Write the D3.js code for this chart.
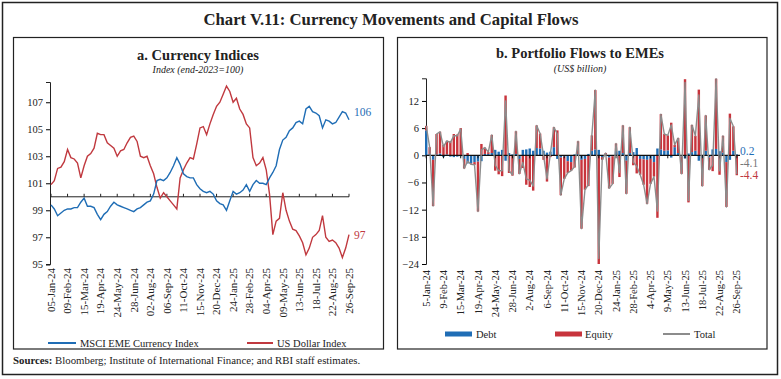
<!DOCTYPE html>
<html><head><meta charset="utf-8">
<script src="https://cdn.jsdelivr.net/npm/d3@7"></script>
<style>body{margin:0;background:#fff} svg{display:block} text{font-family:"Liberation Serif","DejaVu Serif",serif;fill:#222}</style>
</head><body><svg id="c" width="781" height="379"></svg>
<script>
// ---------- DATA ----------
const startDate = "2024-01-05"; // weekly observations (Fridays)
const usdIndex = [100.9,101.2,102.1,102.2,102.6,103.5,102.9,102.8,102.5,101.4,
102.3,103.0,103.2,103.6,104.7,104.6,104.6,104.0,103.8,103.6,
103.0,103.4,103.5,104.0,104.4,104.5,104.1,103.0,102.9,103.0,
102.3,101.7,100.7,99.9,100.3,100.0,99.7,99.4,99.1,101.4,
102.0,102.5,102.9,102.8,103.9,105.1,105.2,104.6,105.4,106.1,
106.7,107.0,107.6,108.2,107.8,107.0,107.3,106.5,106.1,105.4,
105.1,102.9,102.3,102.5,102.9,102.0,100.2,97.2,98.2,98.4,
100.3,99.0,98.2,97.6,97.5,97.1,96.6,95.7,96.2,97.0,
97.2,97.5,98.6,97.0,96.7,96.8,96.6,96.2,95.5,96.2,97.2];
const msciIndex = [99.4,99.1,98.6,98.8,99.0,99.1,99.1,99.2,99.2,99.6,
99.9,99.3,99.3,99.2,98.7,98.3,98.7,98.9,99.3,99.6,
99.4,99.3,99.2,99.1,99.0,98.9,99.1,99.2,99.4,99.6,
99.7,100.2,101.2,101.3,101.2,101.4,101.8,102.3,102.9,102.4,
101.7,101.5,101.4,101.4,100.9,100.6,100.4,100.3,100.4,100.2,
99.7,99.5,99.4,99.0,99.7,100.4,100.2,100.3,100.5,100.9,
100.4,100.9,101.2,101.0,101.0,100.9,101.4,101.8,102.3,103.5,
104.2,104.4,104.9,105.1,105.5,105.6,105.4,106.5,106.7,106.3,
106.2,106.0,105.1,105.7,105.6,105.4,105.5,105.9,106.3,106.2,105.7];
const debtFlows = [5.5,0.3,-1.0,0.2,0.4,-0.4,0.2,-0.3,-0.4,-0.3,
-0.2,-0.8,-1.8,-1.8,-1.5,-1.4,-1.3,0.3,0.3,0.5,
1.2,0.8,1.2,-1.2,0.5,0.2,0.3,-0.8,1.2,1.3,
1.5,1.0,1.6,1.5,1.0,0.6,0.8,1.8,-0.8,-0.5,
-0.3,-1.3,-1.5,0.2,0.3,-1.0,-0.8,0.3,1.0,1.3,
1.2,-0.4,0.2,-0.5,-0.2,1.0,1.0,0.5,-1.2,0.5,
0.7,1.6,-0.8,-0.9,-1.0,-0.8,-1.5,1.5,1.3,1.0,
1.1,-0.5,1.8,0.5,-0.3,-0.7,0.4,0.7,1.0,-1.2,
-0.6,1.0,-0.5,1.3,1.4,0.9,0.6,-1.5,-1.0,1.0,0.2];
const equityFlows = [1.0,1.5,-10.2,4.5,4.8,2.3,3.0,3.1,4.7,4.6,
6.0,-2.1,0.5,-0.2,-0.6,-11.0,2.5,1.4,0.4,4.0,
-3.4,-4.2,-4.6,13.2,-3.9,-4.5,5.0,-3.3,-2.8,-6.5,
-7.0,-7.8,5.0,3.3,-1.0,-5.8,-0.4,4.4,5.5,-8.3,
-4.9,-2.6,-1.9,-2.7,2.8,-15.2,-6.8,-6.8,3.4,13.1,
-24.0,-0.6,0.3,-6.8,-6.1,1.6,-4.8,6.1,-7.3,5.7,
-2.2,-4.0,-3.5,-5.6,-9.7,-5.5,-3.2,-13.8,7.8,3.7,
3.3,7.2,0.5,3.3,-3.8,16.8,-10.4,6.0,3.3,14.5,
-6.2,7.8,-2.7,-3.5,15.5,-4.3,3.7,-9.9,9.2,5.4,-4.4];
const ticksA = ["05-Jan-24","09-Feb-24","15-Mar-24","19-Apr-24","24-May-24","28-Jun-24","02-Aug-24","06-Sep-24","11-Oct-24","15-Nov-24","20-Dec-24","24-Jan-25","28-Feb-25","04-Apr-25","09-May-25","13-Jun-25","18-Jul-25","22-Aug-25","26-Sep-25"];
const ticksB = ["5-Jan-24","9-Feb-24","15-Mar-24","19-Apr-24","24-May-24","28-Jun-24","2-Aug-24","6-Sep-24","11-Oct-24","15-Nov-24","20-Dec-24","24-Jan-25","28-Feb-25","4-Apr-25","9-May-25","13-Jun-25","18-Jul-25","22-Aug-25","26-Sep-25"];
const yTicksA = [95,97,99,101,103,105,107];
const yTicksB = [-24,-18,-12,-6,0,6,12];
const endLabelsA = [{t:"106",v:106.3,c:"#1f6db5"},{t:"97",v:97.2,c:"#c0393f"}];
const endLabelsB = [{t:"0.2",y:0.9,c:"#1f6db5"},{t:"-4.1",y:-1.6,c:"#777"},{t:"-4.4",y:-4.3,c:"#c0393f"}];

// ---------- COLOURS ----------
const BLUE="#1f6db5", RED="#c0393f", GREY="#8c8c8c";
const svg = d3.select("#c");
const parse = d3.timeParse("%Y-%m-%d");
const t0 = parse(startDate);
const dates = usdIndex.map((_,i)=>d3.timeDay.offset(t0,7*i));

// frames
svg.append("rect").attr("x",2.5).attr("y",2.5).attr("width",775).attr("height",372).attr("fill","none").attr("stroke","#222").attr("stroke-width",1.5);
svg.append("text").attr("x",391).attr("y",25).attr("text-anchor","middle").attr("font-weight","bold").attr("font-size",16.7).text("Chart V.11: Currency Movements and Capital Flows");
svg.append("rect").attr("x",13.5).attr("y",37.5).attr("width",370).attr("height",311.5).attr("fill","none").attr("stroke","#222").attr("stroke-width",1.2);
svg.append("rect").attr("x",397.5).attr("y",37.5).attr("width",369.5).attr("height",311.5).attr("fill","none").attr("stroke","#222").attr("stroke-width",1.2);
const src = svg.append("text").attr("x",13).attr("y",364).attr("font-size",10.8);
src.append("tspan").attr("font-weight","bold").text("Sources: ");
src.append("tspan").text("Bloomberg; Institute of International Finance; and RBI staff estimates.");

// ---------- PANEL A ----------
const gA = svg.append("g");
gA.append("text").attr("x",198).attr("y",60).attr("text-anchor","middle").attr("font-weight","bold").attr("font-size",14.5).text("a. Currency Indices");
gA.append("text").attr("x",198).attr("y",73).attr("text-anchor","middle").attr("font-style","italic").attr("font-size",10).text("Index (end-2023=100)");
const xA = d3.scaleTime().domain([dates[0],dates[dates.length-1]]).range([51,349]);
const yA = d3.scaleLinear().domain([95,108.5]).range([264.3,82]);
const axA = gA.append("g").attr("transform","translate(50,0)").call(d3.axisLeft(yA).tickValues(yTicksA).tickSize(4).tickFormat(d3.format("d")));
axA.select(".domain").attr("stroke","#222");
axA.selectAll("text").attr("font-size",10.5).attr("font-family","Liberation Serif").attr("fill","#222");
// baseline at 100
const tickDatesA = ticksA.map((_,k)=>d3.timeDay.offset(t0,35*k));
gA.append("line").attr("x1",50).attr("x2",349).attr("y1",yA(100)).attr("y2",yA(100)).attr("stroke","#222").attr("stroke-width",1);
gA.selectAll(".tka").data(tickDatesA).join("line").attr("x1",d=>xA(d)).attr("x2",d=>xA(d)).attr("y1",yA(100)).attr("y2",yA(100)-3).attr("stroke","#222");
gA.selectAll(".tla").data(ticksA).join("text").attr("font-size",11)
  .attr("transform",(d,k)=>`translate(${xA(tickDatesA[k])+3.8},268) rotate(-90)`).attr("text-anchor","end").text(d=>d);
const lineA = d3.line().x((d,i)=>xA(dates[i])).y(d=>yA(d));
gA.append("path").datum(usdIndex).attr("d",lineA).attr("fill","none").attr("stroke",RED).attr("stroke-width",1.4);
gA.append("path").datum(msciIndex).attr("d",lineA).attr("fill","none").attr("stroke",BLUE).attr("stroke-width",1.4);
gA.selectAll(".ela").data(endLabelsA).join("text").attr("x",354).attr("y",d=>yA(d.v)).attr("dy","0.35em").attr("font-size",11.5).style("fill",d=>d.c).text(d=>d.t);
// legend A
gA.append("line").attr("x1",48).attr("x2",76).attr("y1",343).attr("y2",343).attr("stroke",BLUE).attr("stroke-width",2);
gA.append("text").attr("x",80).attr("y",343).attr("dy","0.35em").attr("font-size",10.5).text("MSCI EME Currency Index");
gA.append("line").attr("x1",247).attr("x2",273).attr("y1",343).attr("y2",343).attr("stroke",RED).attr("stroke-width",2);
gA.append("text").attr("x",277).attr("y",343).attr("dy","0.35em").attr("font-size",10.5).text("US Dollar Index");

// ---------- PANEL B ----------
const gB = svg.append("g");
gB.append("text").attr("x",580).attr("y",58).attr("text-anchor","middle").attr("font-weight","bold").attr("font-size",14.5).text("b. Portfolio Flows to EMEs");
gB.append("text").attr("x",580).attr("y",72).attr("text-anchor","middle").attr("font-style","italic").attr("font-size",10).text("(US$ billion)");
const idx = d3.range(debtFlows.length);
const xB = d3.scaleBand().domain(idx).range([425,738]).paddingInner(0.3);
const yB = d3.scaleLinear().domain([-24,17]).range([264,78.3]);
const axB = gB.append("g").attr("transform","translate(426,0)").call(d3.axisLeft(yB).tickValues(yTicksB).tickSize(4).tickFormat(d3.format("d")));
axB.select(".domain").attr("stroke","#222");
axB.selectAll("text").attr("font-size",10.5).attr("font-family","Liberation Serif").attr("fill","#222");
const rows = idx.map(i=>({i, Debt:debtFlows[i], Equity:equityFlows[i]}));
const stack = d3.stack().keys(["Debt","Equity"]).offset(d3.stackOffsetDiverging)(rows);
const colB = {Debt:BLUE, Equity:"#c8343c"};
gB.selectAll(".ser").data(stack).join("g").attr("fill",s=>colB[s.key])
  .selectAll("rect").data(s=>s).join("rect")
  .attr("x",d=>xB(d.data.i)).attr("width",xB.bandwidth())
  .attr("y",d=>yB(Math.max(d[0],d[1]))).attr("height",d=>Math.abs(yB(d[0])-yB(d[1])));
gB.append("line").attr("x1",426).attr("x2",740).attr("y1",yB(0)).attr("y2",yB(0)).attr("stroke","#111").attr("stroke-width",1.2);
const tickIdxB = ticksB.map((_,k)=>5*k);
gB.selectAll(".tkb").data(tickIdxB).join("line").attr("x1",d=>xB(d)+xB.bandwidth()/2).attr("x2",d=>xB(d)+xB.bandwidth()/2).attr("y1",yB(0)).attr("y2",yB(0)+3).attr("stroke","#111");
const totals = rows.map(r=>r.Debt+r.Equity);
gB.append("path").datum(totals).attr("d",d3.line().x((d,i)=>xB(i)+xB.bandwidth()/2).y(d=>yB(d))).attr("fill","none").attr("stroke",GREY).attr("stroke-width",1.4).attr("stroke-linejoin","round");
gB.selectAll(".tlb").data(ticksB).join("text").attr("font-size",10.5)
  .attr("transform",(d,k)=>`translate(${xB(tickIdxB[k])+xB.bandwidth()/2+3.6},270) rotate(-90)`).attr("text-anchor","end").text(d=>d);
gB.selectAll(".elb").data(endLabelsB).join("text").attr("x",740).attr("y",d=>yB(d.y)).attr("dy","0.35em").attr("font-size",11.5).style("fill",d=>d.c).text(d=>d.t);
// legend B
gB.append("rect").attr("x",445).attr("y",331.5).attr("width",27).attr("height",5).attr("fill",BLUE);
gB.append("text").attr("x",476).attr("y",334).attr("dy","0.35em").attr("font-size",10.5).text("Debt");
gB.append("rect").attr("x",555).attr("y",331.5).attr("width",27).attr("height",5).attr("fill","#c8343c");
gB.append("text").attr("x",585).attr("y",334).attr("dy","0.35em").attr("font-size",10.5).text("Equity");
gB.append("line").attr("x1",663).attr("x2",690).attr("y1",334).attr("y2",334).attr("stroke",GREY).attr("stroke-width",2);
gB.append("text").attr("x",694).attr("y",334).attr("dy","0.35em").attr("font-size",10.5).text("Total");
</script></body></html>
